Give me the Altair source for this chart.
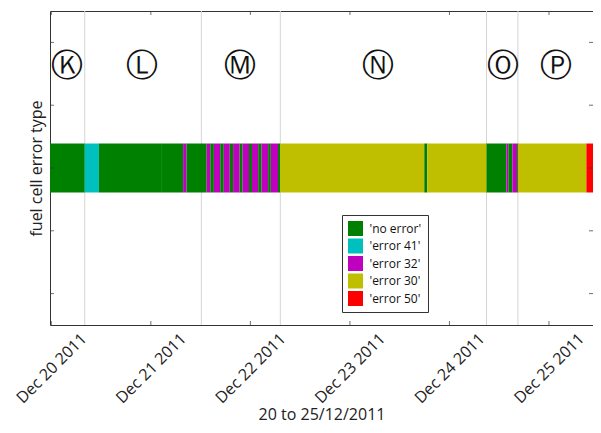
import altair as alt
import pandas as pd

# ---- data ----
# segment boundaries (local time) and the error type of each segment between them
boundaries = [
    "2011-12-19T23:41:00", "2011-12-20T08:04:00", "2011-12-20T11:28:00",
    "2011-12-21T02:28:00", "2011-12-21T07:47:00", "2011-12-21T08:37:00",
    "2011-12-21T13:28:00", "2011-12-21T14:20:00", "2011-12-21T15:12:00",
    "2011-12-21T16:44:00", "2011-12-21T17:35:00", "2011-12-21T19:02:00",
    "2011-12-21T19:50:00", "2011-12-21T21:25:00", "2011-12-21T22:08:00",
    "2011-12-21T23:40:00", "2011-12-22T00:23:00", "2011-12-22T01:53:00",
    "2011-12-22T02:41:00", "2011-12-22T04:17:00", "2011-12-22T04:56:00",
    "2011-12-22T06:40:00", "2011-12-22T07:09:00", "2011-12-23T17:56:00",
    "2011-12-23T18:39:00", "2011-12-24T08:56:00", "2011-12-24T13:43:00",
    "2011-12-24T14:12:00", "2011-12-24T15:10:00", "2011-12-24T16:17:00",
    "2011-12-24T16:31:00", "2011-12-25T09:01:00", "2011-12-25T10:37:00",
]
NE, E41, E32, E30, E50 = "'no error'", "'error 41'", "'error 32'", "'error 30'", "'error 50'"
segment_types = [
    NE, E41, NE, NE, E32, NE,
    E32, NE, E32, NE, E32, NE, E32, NE, E32, NE, E32, NE, E32, NE, E32, NE,
    E30, NE, E30, NE, E32, NE, E32, NE, E30, E50,
]
type_order = [NE, E41, E32, E30, E50]
type_colors = ["#008000", "#00bfbf", "#bf00bf", "#bfbf00", "#ff0000"]

separators = ["2011-12-20T08:04:00", "2011-12-21T12:11:00", "2011-12-22T07:13:00",
              "2011-12-24T08:56:00", "2011-12-24T16:31:00"]

letters = ["\u24c0", "\u24c1", "\u24c2", "\u24c3", "\u24c4", "\u24c5"]
letter_times = ["2011-12-20T03:52:00", "2011-12-20T21:55:00", "2011-12-21T21:35:00",
                "2011-12-23T06:48:00", "2011-12-24T12:48:00", "2011-12-25T01:36:00"]

day_ticks = ["2011-12-20T00:00:00", "2011-12-21T00:00:00", "2011-12-22T00:00:00",
             "2011-12-23T00:00:00", "2011-12-24T00:00:00", "2011-12-25T00:00:00"]
y_ticks = [-2, -1, 0, 1, 2]

# ---- tables ----
seg_df = pd.DataFrame({"start": boundaries[:-1], "end": boundaries[1:], "type": segment_types})
sep_df = pd.DataFrame({"t": separators})
let_df = pd.DataFrame({"t": letter_times, "letter": letters})
xt_df = pd.DataFrame({"t": day_ticks})
yt_df = pd.DataFrame({"v": y_ticks})

FONT = "Open Sans"
INK = "#222222"
X_TITLE = "20 to 25/12/2011"
Y_TITLE = "fuel cell error type"

x_scale = alt.Scale(
    domain=[alt.DateTime(year=2011, month=12, date=19, hours=23, minutes=41),
            alt.DateTime(year=2011, month=12, date=25, hours=10, minutes=37)],
    nice=False,
)
y_scale = alt.Scale(domain=[-2.5, 2.5], nice=False, zero=False)

x_axis = alt.Axis(
    values=[alt.DateTime(year=2011, month=12, date=d) for d in range(20, 26)],
    format="%b %d %Y", labelAngle=315, labelAlign="center", labelBaseline="middle",
    labelPadding=43, ticks=False, grid=False, domain=False,
    labelFont=FONT, labelFontSize=16, labelColor=INK, labelOverlap=False,
    title=X_TITLE, titleY=94, titleBaseline="alphabetic",
    titleFont=FONT, titleFontSize=16, titleFontWeight="normal", titleColor=INK,
)
y_axis = alt.Axis(
    labels=False, ticks=False, grid=False, domain=False,
    title=Y_TITLE, titleX=-9, titleAngle=270,
    titleAlign="center", titleBaseline="alphabetic",
    titleFont=FONT, titleFontSize=16, titleFontWeight="normal", titleColor=INK,
)


def X(field):
    return alt.X(field, scale=x_scale, axis=x_axis, title=X_TITLE)


def Y(**kw):
    return alt.Y(scale=y_scale, axis=y_axis, title=Y_TITLE, **kw)


rules = alt.Chart(sep_df).mark_rule(color="#d4d4d4", strokeWidth=1).encode(
    x=X("t:T"),
)

bars = alt.Chart(seg_df).mark_rect().encode(
    x=X("start:T"),
    x2="end:T",
    y=Y(datum=-0.39),
    y2=alt.Y2(datum=0.39),
    color=alt.Color(
        "type:N",
        scale=alt.Scale(domain=type_order, range=type_colors),
        legend=alt.Legend(
            title=None, orient="none", legendX=292, legendY=204,
            symbolType="square", symbolSize=225, symbolStrokeWidth=0, symbolOpacity=1,
            labelFont=FONT, labelFontSize=12, labelColor="#111111", labelOffset=6.5,
            padding=6, rowPadding=2.5, strokeColor="#333333", fillColor="white",
            cornerRadius=0,
        ),
    ),
)

texts = alt.Chart(let_df).mark_text(
    font="DejaVu Sans", fontSize=32, align="center", baseline="middle", color="#111111"
).encode(
    x=X("t:T"),
    y=Y(datum=1.62),
    text="letter:N",
)

tick_style = dict(color="#333333", thickness=1, size=4)
xt_bottom = alt.Chart(xt_df).mark_tick(**tick_style).encode(
    x=X("t:T"), y=alt.value({"expr": "height - 2"}))
xt_top = alt.Chart(xt_df).mark_tick(**tick_style).encode(
    x=X("t:T"), y=alt.value(2))
yt_left = alt.Chart(yt_df).mark_tick(**tick_style).encode(
    y=Y(shorthand="v:Q"), x=alt.value(2))
yt_right = alt.Chart(yt_df).mark_tick(**tick_style).encode(
    y=Y(shorthand="v:Q"), x=alt.value({"expr": "width - 2"}))

chart = alt.layer(rules, bars, texts, xt_bottom, xt_top, yt_left, yt_right).properties(
    width=585, height=417,
    autosize=alt.AutoSizeParams(type="fit", contains="padding"),
    padding={"left": 5, "top": 2, "right": 0, "bottom": 3},
).configure_view(stroke="#333333", strokeWidth=1)

chart.save("out.html", embed_options={"renderer": "svg", "actions": False})
